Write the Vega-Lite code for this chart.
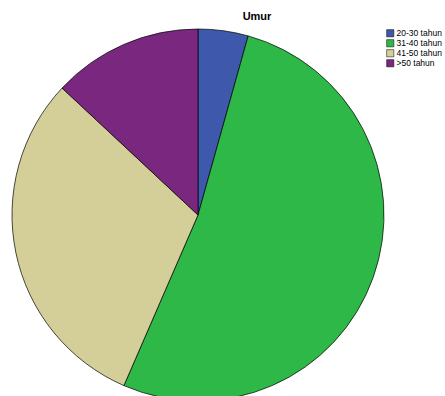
{
  "$schema": "https://vega.github.io/schema/vega-lite/v6.json",
  "autosize": "none",
  "width": 396,
  "height": 390,
  "padding": {"top": 20, "left": 0, "right": 49, "bottom": 0},
  "background": "white",
  "title": {"text": "Umur", "font": "Liberation Sans", "fontSize": 11, "fontWeight": "bold", "color": "#000000", "anchor": "middle", "dx": 59, "offset": -2},
  "data": {"values": [
    {"umur": "20-30 tahun", "n": 2, "k": 1},
    {"umur": "31-40 tahun", "n": 24, "k": 2},
    {"umur": "41-50 tahun", "n": 14, "k": 3},
    {"umur": ">50 tahun", "n": 6, "k": 4}
  ]},
  "mark": {"type": "arc", "radius": 186, "stroke": "#000000", "strokeWidth": 0.7},
  "encoding": {
    "theta": {"field": "n", "type": "quantitative", "stack": true},
    "order": {"field": "k", "type": "quantitative"},
    "color": {"field": "umur", "type": "nominal", "sort": ["20-30 tahun", "31-40 tahun", "41-50 tahun", ">50 tahun"],
      "scale": {"domain": ["20-30 tahun", "31-40 tahun", "41-50 tahun", ">50 tahun"], "range": ["#3E58AC", "#2EB848", "#D4CE99", "#7A287F"]},
      "legend": {"title": null, "orient": "none", "legendX": 386, "legendY": 9, "symbolType": "square", "symbolSize": 52, "symbolStrokeColor": "#000000", "symbolStrokeWidth": 0.5, "labelFont": "Liberation Sans", "labelFontSize": 8.5, "labelColor": "#000000", "rowPadding": 0, "labelOffset": 2, "symbolOpacity": 1}
    }
  }
}
